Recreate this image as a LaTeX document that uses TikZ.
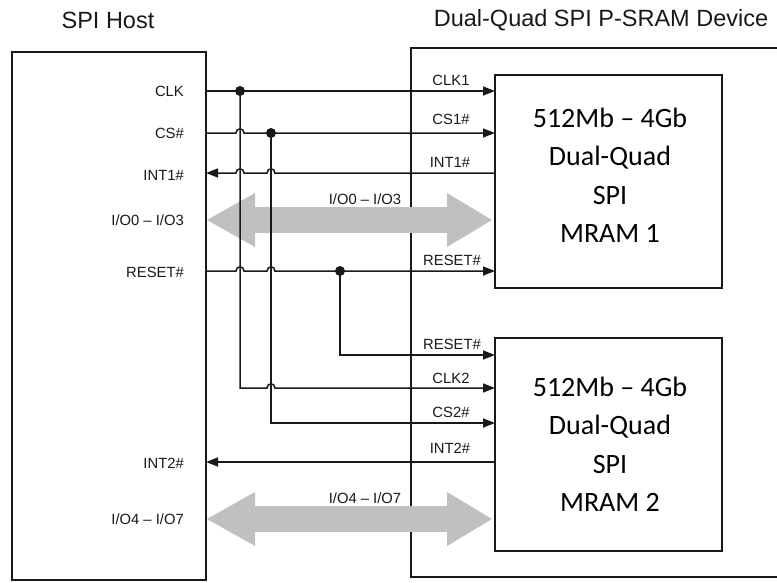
\documentclass[tikz,border=0pt]{standalone}
\usepackage{fontspec}
\setmainfont{Liberation Sans}
\newfontfamily\calfont{Carlito}
\usetikzlibrary{arrows.meta}
\definecolor{busgray}{RGB}{192,192,192}
\definecolor{ink}{RGB}{25,25,25}
\def\hop#1#2{-- (#1-4,#2) .. controls (#1-4,#2-5.5) and (#1+4,#2-5.5) .. (#1+4,#2)}
\begin{document}
\begin{tikzpicture}[x=1pt,y=-1pt,
  frame/.style={draw=ink, line width=2.8pt, inner sep=0pt},
  chip/.style={draw=ink, line width=2.4pt, fill=white, inner sep=0pt},
  sig/.style={draw=ink, line width=1.5pt},
  tipx/.tip={Triangle[length=12pt,width=9pt]},
  arr/.style={sig, -tipx},
  rarr/.style={sig, tipx-},
  bus/.style={draw=busgray, line width=26pt,
    {Triangle[length=48pt,width=54pt,line width=0pt]}-{Triangle[length=45pt,width=54pt,line width=0pt]}},
  dot/.style={circle, fill=ink, inner sep=0pt, minimum size=10pt},
  lbl/.style={font=\fontsize{14.8}{16}\selectfont, text=ink, inner sep=0pt},
  title/.style={font=\fontsize{23.5}{26}\selectfont, text=ink, inner sep=0pt},
  chiptext/.style={font=\calfont\fontsize{28}{38.5}\selectfont, align=center, text=black, inner sep=0pt}
]
\clip (0,0) rectangle (777,582);
\fill[white] (0,0) rectangle (777,582);

% boxes
\node[frame, minimum width=194pt, minimum height=528pt] (host) at (109,316) {};
\node[frame, minimum width=389pt, minimum height=529pt] (dev) at (605.5,312.5) {};

% titles
\node[title] (th) at (108,20) {SPI Host};
\node[title] (td) at (601,20) {Dual-Quad SPI P-SRAM Device};

% pins
\coordinate (hclk) at (206,91);
\coordinate (hcs) at (206,133);
\coordinate (hint1) at (206,173);
\coordinate (hio1) at (207,220);
\coordinate (hrst) at (206,271);
\coordinate (hint2) at (206,462);
\coordinate (hio2) at (207,519);
\coordinate (mclk1) at (495,91);
\coordinate (mcs1) at (495,133);
\coordinate (mint1) at (495,173);
\coordinate (mio1) at (492,220);
\coordinate (mrst1) at (495,271);
\coordinate (mrst2) at (495,355);
\coordinate (mclk2) at (495,388);
\coordinate (mcs2) at (495,423);
\coordinate (mint2) at (495,462);
\coordinate (mio2) at (492,519);
\coordinate (dclk) at (240,91);
\coordinate (dcs) at (271,133);
\coordinate (drst) at (340,271);

% buses
\draw[bus] (hio1) -- (mio1);
\draw[bus] (hio2) -- (mio2);

% chips
\node[chip, minimum width=227pt, minimum height=213pt] (m1) at (608.5,181.5) {};
\node[chip, minimum width=227pt, minimum height=213pt] (m2) at (608.5,444.5) {};
\node[chiptext] (t1) at (610,175.5) {512Mb – 4Gb\\Dual-Quad\\SPI\\MRAM 1};
\node[chiptext] (t2) at (610,444.5) {512Mb – 4Gb\\Dual-Quad\\SPI\\MRAM 2};

% signals
\draw[arr] (hclk) -- (mclk1);
\draw[arr] (dclk) -- (dclk |- mclk2) \hop{271}{388} -- (mclk2);
\draw[arr] (hcs) \hop{240}{133} -- (mcs1);
\draw[arr] (dcs) -- (dcs |- mcs2) -- (mcs2);
\draw[rarr] (hint1) \hop{240}{173} \hop{271}{173} -- (mint1);
\draw[arr] (hrst) \hop{240}{271} \hop{271}{271} -- (mrst1);
\draw[arr] (drst) -- (drst |- mrst2) -- (mrst2);
\draw[rarr] (hint2) -- (mint2);

\node[dot] (jclk) at (dclk) {};
\node[dot] (jcs) at (dcs) {};
\node[dot] (jrst) at (drst) {};

% host labels
\node[lbl, anchor=east] (lclk) at (184,91) {CLK};
\node[lbl, anchor=east] (lcs) at (184,133) {CS\#};
\node[lbl, anchor=east] (lint1) at (184,175) {INT1\#};
\node[lbl, anchor=east] (lio1) at (184,220) {I/O0 – I/O3};
\node[lbl, anchor=east] (lrst) at (184,272) {RESET\#};
\node[lbl, anchor=east] (lint2) at (184,463) {INT2\#};
\node[lbl, anchor=east] (lio2) at (184,519) {I/O4 – I/O7};

% bus labels
\node[lbl] (bio1) at (365,199) {I/O0 – I/O3};
\node[lbl] (bio2) at (365,498) {I/O4 – I/O7};

% device labels
\node[lbl] (dclk1) at (451,80) {CLK1};
\node[lbl] (dcs1) at (451,119) {CS1\#};
\node[lbl] (dint1) at (450,162) {INT1\#};
\node[lbl] (drst1) at (452,260) {RESET\#};
\node[lbl] (drst2) at (452,344) {RESET\#};
\node[lbl] (dclk2) at (451,378) {CLK2};
\node[lbl] (dcs2) at (451,412) {CS2\#};
\node[lbl] (dint2) at (450,448) {INT2\#};
\end{tikzpicture}
\end{document}
